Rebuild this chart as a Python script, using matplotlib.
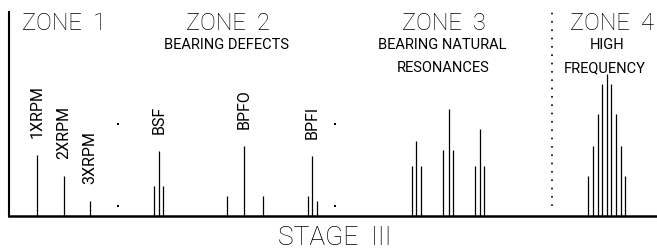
import matplotlib
matplotlib.use("Agg")
import matplotlib.pyplot as plt

plt.rcParams['font.family'] = ['Roboto', 'DejaVu Sans']

# discrete spectral lines (frequency position, amplitude)
harm_freq = [27.7, 55, 81]
harm_amp = [61, 40, 15]
harm_labels = ["1XRPM", "2XRPM", "3XRPM"]

bsf_freq = [145.3, 150, 154]
bsf_amp = [30, 65, 30]
bpfo_freq = [217.7, 235.3, 254.3]
bpfo_amp = [20, 70, 20]
bpfi_freq = [299.3, 303, 307.7]
bpfi_amp = [20, 60, 15]
defect_labels = ["BSF", "BPFO", "BPFI"]

res_freq = [403.3, 407, 412, 434.3, 440, 443.7, 466, 471, 475]
res_amp = [50, 75, 50, 66, 107, 66, 50, 87, 50]

hf_freq = [579, 583.7, 588.7, 592.7, 597.7, 601.7, 606.7, 611.7, 615.7]
hf_amp = [40, 70, 102, 132, 142, 132, 102, 70, 40]

dot_freq = [108.7, 108.7, 325.7, 325.7]
dot_amp = [92, 10, 92, 10]

zone4_edge = 542.7

fig = plt.figure(figsize=(6.57, 2.5), dpi=100)
ax = fig.add_axes([9 / 657, 34 / 250, 648 / 657, 204 / 250])
ax.set_xlim(0, 648)
ax.set_ylim(0, 204)

for f, a in [(harm_freq, harm_amp), (bsf_freq, bsf_amp), (bpfo_freq, bpfo_amp),
             (bpfi_freq, bpfi_amp), (res_freq, res_amp), (hf_freq, hf_amp)]:
    ax.vlines(f, 0, a, color='black', lw=0.9)

ax.plot(dot_freq, dot_amp, 's', color='black', ms=1.5, mew=0)
ax.vlines(zone4_edge, 10, 204, color='black', lw=1.2, linestyles=(0, (1, 4)))

# rotated labels above the main peaks
peaks = list(zip(harm_freq, harm_amp)) + [(bsf_freq[1], bsf_amp[1]),
                                           (bpfo_freq[1], bpfo_amp[1]),
                                           (bpfi_freq[1], bpfi_amp[1])]
for (f, a), lab in zip(peaks, harm_labels + defect_labels):
    ax.annotate(lab, (f, a), xytext=(0, 12), textcoords='offset points',
                rotation=90, ha='center', va='bottom', fontsize=11.5)

big = dict(ha='center', va='center', fontweight='light', color='black', fontsize=17)
small = dict(ha='center', va='center', color='black', fontsize=10.5)
ax.text(55, 192, "ZONE  1", **big)
ax.text(219, 192, "ZONE  2", **big)
ax.text(217, 171, "BEARING DEFECTS", **small)
ax.text(435, 192, "ZONE  3", **big)
ax.text(433, 171, "BEARING NATURAL", **small)
ax.text(434, 148, "RESONANCES", **small)
ax.text(603, 192, "ZONE  4", **big)
ax.text(598, 171, "HIGH", **small)
ax.text(596, 148, "FREQUENCY", **small)
ax.text(326, -22, "STAGE  III", clip_on=False, **dict(big, fontsize=19))

for s in ['top', 'right']:
    ax.spines[s].set_visible(False)
ax.spines['left'].set_linewidth(1.5)
ax.spines['bottom'].set_linewidth(1.8)
ax.set_xticks([])
ax.set_yticks([])

fig.savefig("out.png", dpi=100)
